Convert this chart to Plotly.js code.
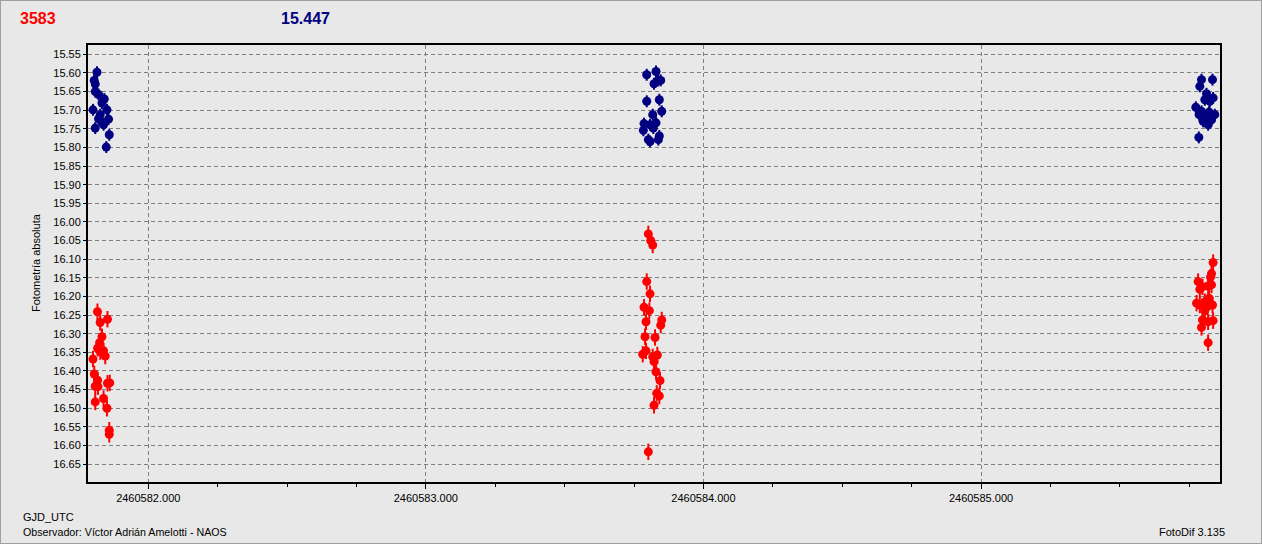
<!DOCTYPE html>
<html>
<head>
<meta charset="utf-8">
<script src="https://cdn.plot.ly/plotly-3.0.1.min.js"></script>
<style>
  html, body { margin: 0; padding: 0; background: #e8e8e8; }
  #wrap { position: relative; width: 1262px; height: 544px; }
  #chart { position: absolute; left: 0; top: 0; width: 1262px; height: 544px; }
  #frame { position: absolute; left: 0; top: 0; width: 1262px; height: 544px; box-sizing: border-box;
           border: 1px solid #a0a0a0; pointer-events: none; }
</style>
</head>
<body>
<div id="wrap"><div id="chart"></div><div id="frame"></div></div>
<script>
// ---- Data (GJD_UTC, magnitude) ----
// Comparison / check star (blue)
const blueX = [
  2460581.8153, 2460581.8055, 2460581.8091, 2460581.8091, 2460581.8210, 2460581.8416, 2460581.8333,
  2460581.8009, 2460581.8513, 2460581.8272, 2460581.8210, 2460581.8570, 2460581.8333, 2460581.8091,
  2460581.8391, 2460581.8596, 2460581.8488,
  2460583.7958, 2460583.8293, 2460583.8376, 2460583.8221, 2460583.8462, 2460583.7958, 2460583.8412,
  2460583.8174, 2460583.8498, 2460583.7861, 2460583.8077, 2460583.8293, 2460583.7836, 2460583.8196,
  2460583.8412, 2460583.8077, 2460583.8016, 2460583.8376,
  2460585.7944, 2460585.8340, 2460585.7883, 2460585.8124, 2460585.8362, 2460585.8063, 2460585.8243,
  2460585.7739, 2460585.7944, 2460585.8218, 2460585.8423, 2460585.7857, 2460585.8063, 2460585.8304,
  2460585.8002, 2460585.8182, 2460585.7847
];
const blueY = [
  15.598, 15.620, 15.630, 15.650, 15.658, 15.670, 15.681,
  15.699, 15.699, 15.712, 15.723, 15.724, 15.732, 15.748,
  15.739, 15.766, 15.799,
  15.605, 15.596, 15.620, 15.629, 15.620, 15.676, 15.672,
  15.712, 15.703, 15.736, 15.739, 15.734, 15.754, 15.748,
  15.769, 15.784, 15.779, 15.779,
  15.618, 15.618, 15.636, 15.656, 15.667, 15.672, 15.676,
  15.692, 15.703, 15.705, 15.712, 15.712, 15.717, 15.726,
  15.730, 15.739, 15.773
];
// Variable star (red)
const redX = [
  2460581.8171, 2460581.8268, 2460581.8531, 2460581.8333, 2460581.8247, 2460581.8175, 2460581.8272,
  2460581.8391, 2460581.8452, 2460581.8009, 2460581.8055, 2460581.8175, 2460581.8091, 2460581.8189,
  2460581.8531, 2460581.8614, 2460581.8091, 2460581.8391, 2460581.8513, 2460581.8596, 2460581.8596,
  2460583.8016, 2460583.8102, 2460583.8174, 2460583.7958, 2460583.8077, 2460583.7861, 2460583.8052,
  2460583.7933, 2460583.8498, 2460583.8462, 2460583.7897, 2460583.8257, 2460583.7814, 2460583.7933,
  2460583.8174, 2460583.8340, 2460583.8221, 2460583.8293, 2460583.8437, 2460583.8318, 2460583.8412,
  2460583.8221, 2460583.8016,
  2460585.8362, 2460585.8304, 2460585.8268, 2460585.7821, 2460585.7980, 2460585.8182, 2460585.8304,
  2460585.7883, 2460585.8218, 2460585.8063, 2460585.7764, 2460585.7883, 2460585.8340, 2460585.8146,
  2460585.8063, 2460585.7980, 2460585.8362, 2460585.8182, 2460585.7944, 2460585.8182
];
const redY = [
  16.241, 16.270, 16.261, 16.308, 16.324, 16.339, 16.348,
  16.346, 16.360, 16.368, 16.408, 16.425, 16.441, 16.442,
  16.433, 16.432, 16.483, 16.474, 16.500, 16.559, 16.570,
  16.032, 16.050, 16.062, 16.160, 16.193, 16.229, 16.238,
  16.268, 16.263, 16.277, 16.308, 16.310, 16.355, 16.346,
  16.362, 16.357, 16.375, 16.402, 16.426, 16.460, 16.467,
  16.492, 16.617,
  16.109, 16.139, 16.148, 16.160, 16.174, 16.172, 16.169,
  16.181, 16.205, 16.214, 16.218, 16.223, 16.223, 16.228,
  16.238, 16.263, 16.265, 16.268, 16.283, 16.324
];
const blueErr = 0.016;
const redErr = 0.022;

const headerLeft = "3583";
const headerRight = "15.447";
const yTitle = "Fotometría absoluta";
const xTitle = "GJD_UTC";
const observer = "Observador: Víctor Adrián Amelotti - NAOS";
const software = "FotoDif 3.135";

const RED = "#ff0000";
const BLUE = "#000080";
const FONT = "Liberation Sans, Arial, sans-serif";

const traces = [
  {
    x: blueX, y: blueY, type: "scatter", mode: "markers",
    marker: { color: BLUE, size: 9, symbol: "circle", line: { width: 0 } },
    error_y: { type: "constant", value: blueErr, color: BLUE, thickness: 2, width: 0 },
    hoverinfo: "skip"
  },
  {
    x: redX, y: redY, type: "scatter", mode: "markers",
    marker: { color: RED, size: 9, symbol: "circle", line: { width: 0 } },
    error_y: { type: "constant", value: redErr, color: RED, thickness: 2, width: 0 },
    hoverinfo: "skip"
  }
];

// plot area: x 88..1220, y 45..482
const PL = 88, PR = 1220, PT = 45, PB = 482;
const px = v => (v - PL) / (PR - PL);
const py = v => (PB - v) / (PB - PT);

const layout = {
  width: 1262, height: 544,
  margin: { l: PL, r: 1262 - PR, t: PT, b: 544 - PB, pad: 0 },
  paper_bgcolor: "#e8e8e8",
  plot_bgcolor: "#e8e8e8",
  showlegend: false,
  font: { family: FONT, size: 11, color: "#000" },
  xaxis: {
    range: [2460581.783, 2460585.861],
    tickmode: "linear", tick0: 2460582, dtick: 1,
    tickformat: ".3f",
    ticks: "outside", ticklen: 5, tickcolor: "#000", tickwidth: 1,
    showgrid: true, gridcolor: "#808080", gridwidth: 1, griddash: "4px,3px",
    minor: { dtick: 0.25, tick0: 2460582, ticks: "outside", ticklen: 3, tickcolor: "#000", showgrid: false },
    showline: true, linecolor: "#000", linewidth: 2, mirror: true,
    zeroline: false,
    tickfont: { family: FONT, size: 11, color: "#000" }
  },
  yaxis: {
    range: [16.698, 15.525],
    tickmode: "linear", tick0: 15.55, dtick: 0.05,
    tickformat: ".2f",
    ticks: "outside", ticklen: 3, tickcolor: "#000", tickwidth: 1,
    showgrid: true, gridcolor: "#808080", gridwidth: 1, griddash: "4px,3px",
    showline: true, linecolor: "#000", linewidth: 2, mirror: true,
    zeroline: false,
    tickfont: { family: FONT, size: 11, color: "#000" }
  },
  annotations: [
    { text: "<b>" + headerLeft + "</b>", xref: "paper", yref: "paper", x: px(18), y: py(19),
      xanchor: "left", yanchor: "middle", showarrow: false, font: { family: FONT, size: 16, color: RED } },
    { text: "<b>" + headerRight + "</b>", xref: "paper", yref: "paper", x: px(279), y: py(19),
      xanchor: "left", yanchor: "middle", showarrow: false, font: { family: FONT, size: 16, color: BLUE } },
    { text: yTitle, xref: "paper", yref: "paper", x: px(36), y: py(263), textangle: -90,
      xanchor: "center", yanchor: "middle", showarrow: false, font: { family: FONT, size: 11, color: "#000" } },
    { text: xTitle, xref: "paper", yref: "paper", x: px(21), y: py(517),
      xanchor: "left", yanchor: "middle", showarrow: false, font: { family: FONT, size: 11, color: "#000" } },
    { text: observer, xref: "paper", yref: "paper", x: px(21), y: py(532),
      xanchor: "left", yanchor: "middle", showarrow: false, font: { family: FONT, size: 10.7, color: "#000" } },
    { text: software, xref: "paper", yref: "paper", x: px(1227), y: py(532),
      xanchor: "right", yanchor: "middle", showarrow: false, font: { family: FONT, size: 11, color: "#000" } }
  ]
};

Plotly.newPlot("chart", traces, layout, { displayModeBar: false, staticPlot: true });
</script>
</body>
</html>
